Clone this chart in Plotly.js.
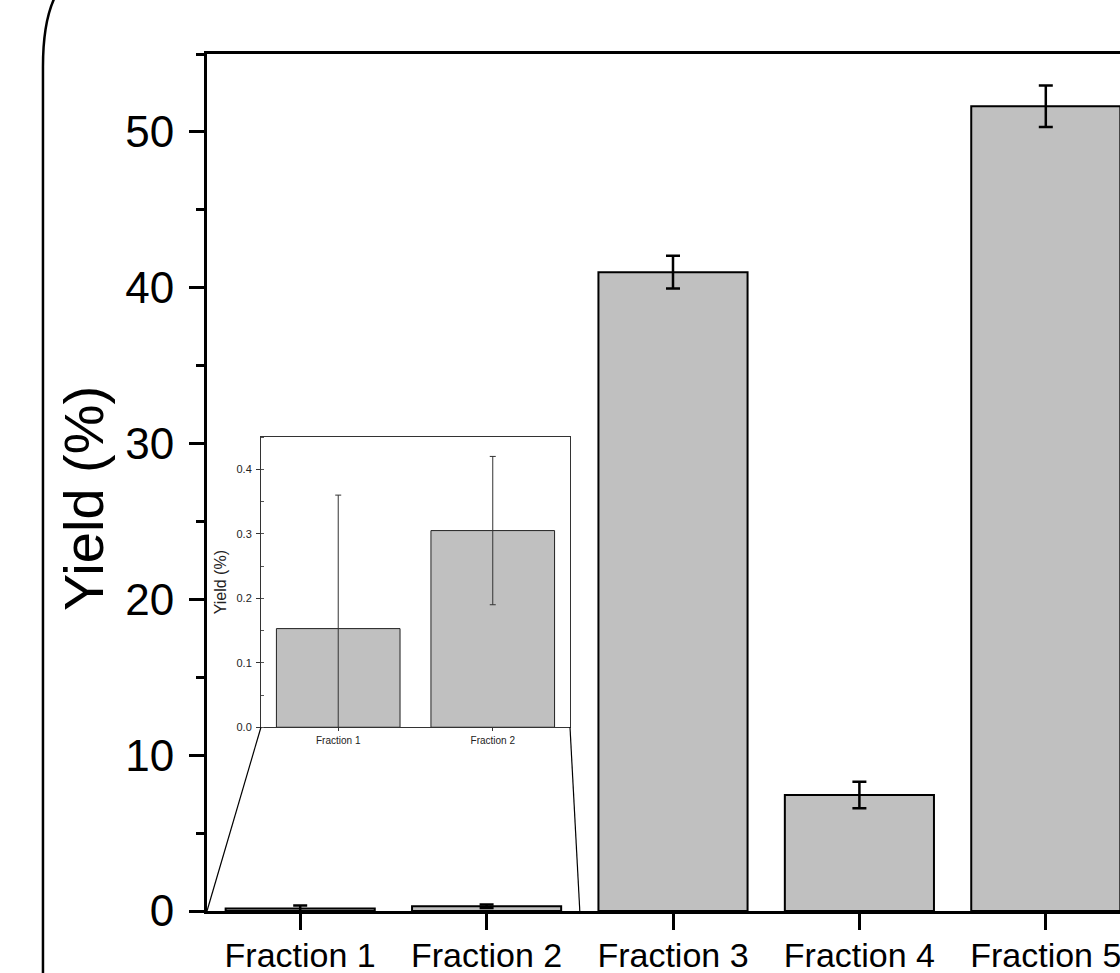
<!DOCTYPE html>
<html>
<head>
<meta charset="utf-8">
<script src="https://cdn.plot.ly/plotly-3.0.1.min.js"></script>
<style>
  html, body { margin: 0; padding: 0; overflow: hidden; background: #fff; }
  #chart { width: 1160px; height: 973px; }
</style>
</head>
<body>
<div id="chart"></div>
<script>
// ---- data ----
const categories = ['Fraction 1', 'Fraction 2', 'Fraction 3', 'Fraction 4', 'Fraction 5'];
const yieldMean  = [0.153, 0.305, 41.0, 7.45, 51.65];
const yieldErr   = [0.207, 0.115, 1.05, 0.85, 1.33];

const insetCategories = ['Fraction 1', 'Fraction 2'];
const insetMean = [0.153, 0.305];
const insetErr  = [0.207, 0.115];

const yTickVals = [0, 10, 20, 30, 40, 50];
const insetTickVals = [0.0, 0.1, 0.2, 0.3, 0.4];
const yTitle = 'Yield (%)';

// ---- layout constants ----
const FONT = 'Liberation Sans, Arial, sans-serif';
const insetX = [0.0579, 0.3895];
const insetY = [0.2144, 0.5530];

const traces = [
  {
    type: 'bar', x: categories, y: yieldMean, width: 0.8,
    marker: { color: '#c0c0c0', line: { color: '#000', width: 2 } },
    error_y: { type: 'data', array: yieldErr, visible: true, color: '#000', thickness: 2.5, width: 7 },
    xaxis: 'x', yaxis: 'y', hoverinfo: 'skip'
  },
  {
    type: 'bar', x: insetCategories, y: insetMean, width: 0.8,
    marker: { color: '#c0c0c0', line: { color: '#222', width: 1 } },
    error_y: { type: 'data', array: insetErr, visible: true, color: '#333', thickness: 1, width: 3 },
    xaxis: 'x2', yaxis: 'y2', hoverinfo: 'skip'
  }
];

const layout = {
  width: 1160, height: 973, autosize: false,
  margin: { l: 207, r: 21, t: 54, b: 62 },
  paper_bgcolor: '#fff', plot_bgcolor: 'rgba(0,0,0,0)',
  showlegend: false,
  font: { family: FONT, color: '#000' },
  xaxis: {
    type: 'category', range: [-0.5, 4.5], domain: [0, 1], anchor: 'y',
    showline: true, linewidth: 3, linecolor: '#000', mirror: true,
    ticks: 'outside', ticklen: 16, tickwidth: 3, tickcolor: '#000',
    showgrid: false, zeroline: false,
    tickfont: { size: 34, family: FONT, color: '#000' },
    ticklabelstandoff: -4
  },
  yaxis: {
    range: [0, 55], domain: [0, 1], anchor: 'x',
    tickmode: 'array', tickvals: yTickVals,
    showline: true, linewidth: 3, linecolor: '#000', mirror: false,
    ticks: 'outside', ticklen: 15, tickwidth: 3, tickcolor: '#000',
    minor: { dtick: 5, tick0: 0, ticks: 'outside', ticklen: 8, tickwidth: 3, tickcolor: '#000', showgrid: false },
    showgrid: false, zeroline: false,
    tickfont: { size: 44, family: FONT, color: '#000' },
    ticklabelstandoff: 6
  },
  xaxis2: {
    type: 'category', range: [-0.5, 1.5], domain: insetX, anchor: 'y2',
    showline: true, linewidth: 1, linecolor: '#333', mirror: true,
    ticks: 'outside', ticklen: 3, tickwidth: 1, tickcolor: '#333',
    showgrid: false, zeroline: false,
    tickfont: { size: 10, family: FONT, color: '#222' },
    ticklabelstandoff: 1
  },
  yaxis2: {
    range: [0, 0.45], domain: insetY, anchor: 'x2',
    tickmode: 'array', tickvals: insetTickVals, tickformat: '.1f',
    showline: true, linewidth: 1, linecolor: '#333', mirror: true,
    ticks: 'outside', ticklen: 4, tickwidth: 1, tickcolor: '#333',
    minor: { dtick: 0.05, tick0: 0, ticks: 'inside', ticklen: 3, tickwidth: 1, tickcolor: '#555', showgrid: false },
    showgrid: false, zeroline: false,
    tickfont: { size: 11, family: FONT, color: '#222' },
    ticklabelstandoff: 2,
    title: { text: yTitle, font: { size: 16, family: FONT, color: '#222' }, standoff: 5 }
  },
  annotations: [
    // main y-axis title
    { text: yTitle, textangle: -90, xref: 'paper', yref: 'paper',
      x: -0.132, y: 0.482, xanchor: 'center', yanchor: 'middle', showarrow: false,
      font: { size: 56, family: FONT, color: '#000' } }
  ],
  shapes: [
    // zoom connector lines from the inset to the main axis
    { type: 'line', xref: 'paper', yref: 'paper', x0: insetX[0], y0: insetY[0], x1: 0, y1: 0,
      line: { color: '#000', width: 1.2 } },
    { type: 'line', xref: 'paper', yref: 'paper', x0: insetX[1], y0: insetY[0], x1: 0.4, y1: 0,
      line: { color: '#000', width: 1.2 } },
    // rounded frame edge at the far left
    { type: 'path', xref: 'paper', yref: 'paper',
      path: 'M -0.1620,1.0690 Q -0.1760,1.0400 -0.1760,0.9850 L -0.1760,-0.0900',
      line: { color: '#000', width: 2.5 } }
  ]
};

Plotly.newPlot('chart', traces, layout, { staticPlot: true, displayModeBar: false });
</script>
</body>
</html>
